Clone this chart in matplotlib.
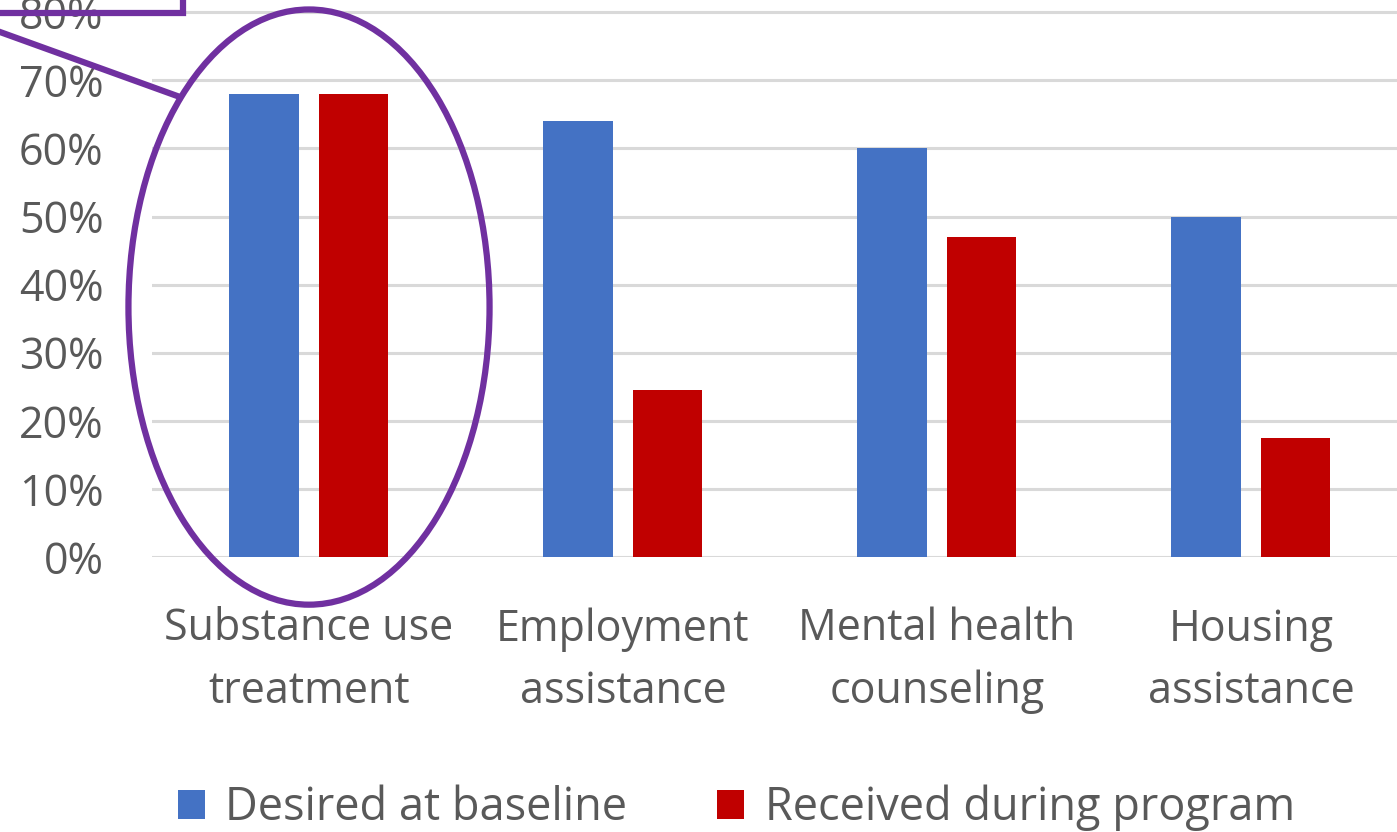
import numpy as np
import matplotlib.pyplot as plt
from matplotlib.patches import Ellipse, Rectangle
from matplotlib.lines import Line2D

plt.rcParams['font.family'] = ['Open Sans', 'DejaVu Sans']

# data
categories = ['Substance use\ntreatment', 'Employment\nassistance', 'Mental health\ncounseling', 'Housing\nassistance']
desired = [0.68, 0.64, 0.60, 0.50]
received = [0.68, 0.245, 0.47, 0.175]
series_names = ['Desired at baseline', 'Received during program']

blue = '#4472c4'
red = '#c00000'
purple = '#7030a0'
txt = '#595959'

fig = plt.figure(figsize=(13.97, 8.32), dpi=100)
ax = fig.add_axes([152/1397, 275/832, 1256/1397, 557/832])

x = np.arange(len(categories))
w = 0.222
ax.bar(x - 0.1433, desired, width=w, color=blue, label=series_names[0], zorder=3)
ax.bar(x + 0.1418, received, width=w, color=red, label=series_names[1], zorder=3)

ax.set_xlim(-0.5, 3.5)
ax.set_ylim(0, 557/681)
ax.set_yticks(np.arange(0, 0.81, 0.1))
ax.set_yticklabels(['%d%%' % round(v*100) for v in np.arange(0, 0.81, 0.1)])
ax.set_xticks(x)
ax.set_xticklabels(categories, linespacing=1.55)
ax.tick_params(axis='both', length=0, labelsize=31, colors=txt)
ax.tick_params(axis='y', pad=35)
ax.tick_params(axis='x', pad=36)
for s in ax.spines.values():
    s.set_visible(False)
ax.yaxis.grid(True, color='#d9d9d9', lw=2.2, zorder=0)
ax.set_axisbelow(True)

# annotation: ellipse around first group, box and connector
ell = Ellipse((0, 0.367), 1.15, 0.874, fill=False, ec=purple, lw=4.5,
              clip_on=False, zorder=5)
ax.add_patch(ell)
fig.add_artist(Rectangle((-0.05, 1 - 13/832), 183/1397 + 0.05, 0.1,
                         transform=fig.transFigure, fill=False, ec=purple, lw=4.5))
fig.add_artist(Line2D([0, 180/1397], [1 - 32/832, 1 - 97/832],
                      transform=fig.transFigure, color=purple, lw=4.5))

leg = fig.legend(loc='center', bbox_to_anchor=(0.527, 1 - 808/832), ncol=2,
                 frameon=False, fontsize=32.5, handlelength=0.6, handleheight=0.6,
                 handletextpad=0.45, columnspacing=2.0)
for t in leg.get_texts():
    t.set_color(txt)

fig.savefig('out.png', dpi=100)
